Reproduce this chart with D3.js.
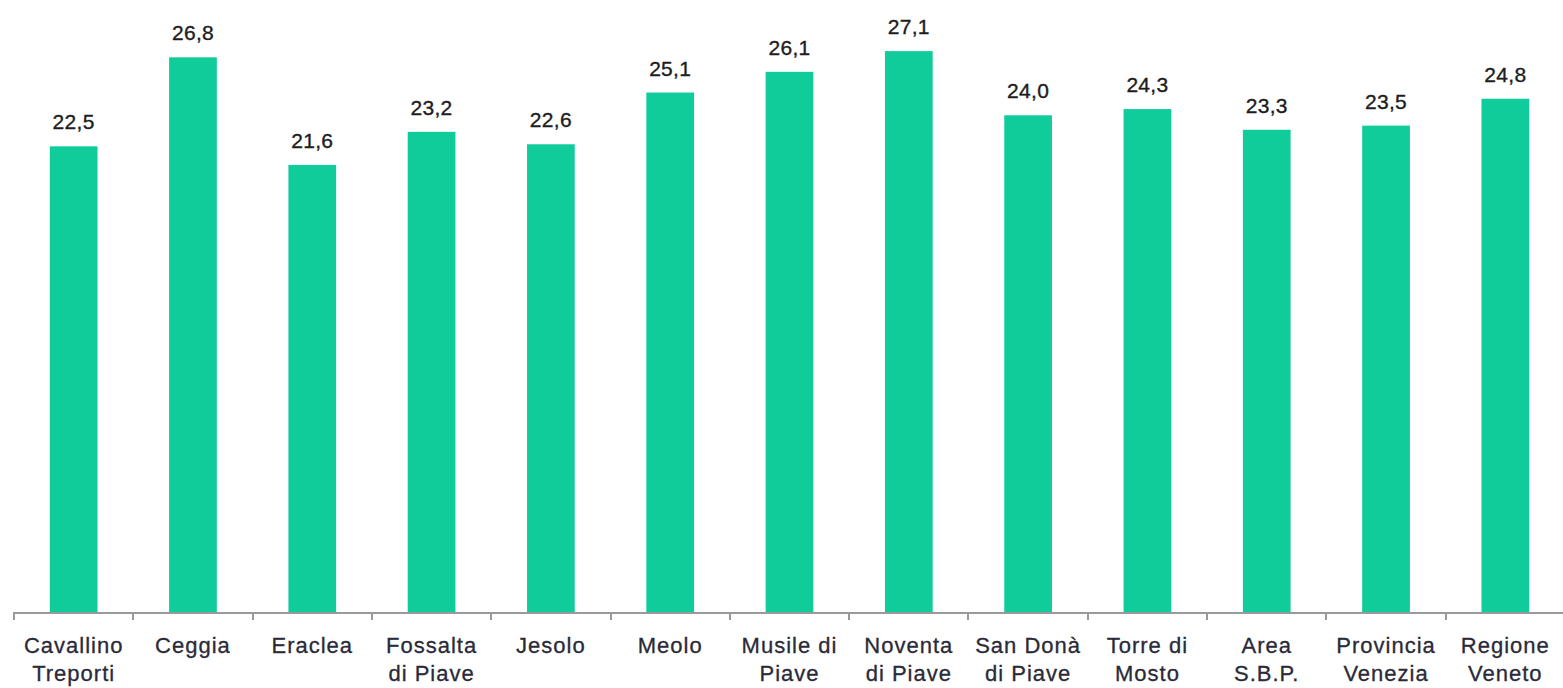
<!DOCTYPE html>
<html>
<head>
<meta charset="utf-8">
<title>Bar chart</title>
<script src="https://d3js.org/d3.v7.min.js"></script>
<style>
	body { margin: 0; background: #fff; }
	.axis line { stroke: #9a9a9a; stroke-width: 2px; shape-rendering: crispEdges; }
	.val { font: 21px "Liberation Sans", Arial, sans-serif; fill: #1c1c22; stroke: #1c1c22; stroke-width: 0.35px; text-anchor: middle; letter-spacing: 0.3px; }
	.cat { font: 22px "Liberation Sans", Arial, sans-serif; fill: #2a2a38; stroke: #2a2a38; stroke-width: 0.3px; text-anchor: middle; letter-spacing: 1px; }
</style>
</head>
<body>
<svg id="chart"></svg>
<script>
var categories = ['Cavallino|Treporti', 'Ceggia', 'Eraclea', 'Fossalta|di Piave', 'Jesolo', 'Meolo',
	'Musile di|Piave', 'Noventa|di Piave', 'San Donà|di Piave', 'Torre di|Mosto', 'Area|S.B.P.',
	'Provincia|Venezia', 'Regione|Veneto'];
var values = [22.5, 26.8, 21.6, 23.2, 22.6, 25.1, 26.1, 27.1, 24.0, 24.3, 23.3, 23.5, 24.8];

var _width = 1563, _height = 688,
	_base = 612,
	_x = d3.scaleBand().domain(categories).range([14, 1565]).paddingInner(0.6).paddingOuter(0.3),
	_y = d3.scaleLinear().domain([0, 29.57]).range([_base, 0]);

var svg = d3.select('#chart').attr('width', _width).attr('height', _height);

// bars
svg.append('g').selectAll('rect')
	.data(values)
	.enter().append('rect')
		.attr('x', function(d, i){ return _x(categories[i]); })
		.attr('y', function(d){ return _y(d); })
		.attr('width', _x.bandwidth())
		.attr('height', function(d){ return _base - _y(d); })
		.attr('fill', '#10cc9b');

// value labels
svg.append('g').selectAll('text')
	.data(values)
	.enter().append('text')
		.attr('class', 'val')
		.attr('x', function(d, i){ return _x(categories[i]) + _x.bandwidth() / 2; })
		.attr('y', function(d){ return _y(d) - 17; })
		.text(function(d){ return d.toFixed(1).replace('.', ','); });

// x axis: line + ticks at band boundaries
var ax = svg.append('g').attr('class', 'axis');
var step = _x.step();
ax.append('line')
	.attr('x1', 13).attr('x2', _width)
	.attr('y1', _base + 1).attr('y2', _base + 1);
ax.selectAll('line.tick')
	.data(d3.range(categories.length))
	.enter().append('line')
		.attr('class', 'tick')
		.attr('x1', function(i){ return _x.range()[0] + i * step; })
		.attr('x2', function(i){ return _x.range()[0] + i * step; })
		.attr('y1', _base + 1).attr('y2', _base + 8);

// category labels
var lab = svg.append('g').selectAll('text')
	.data(categories)
	.enter().append('text')
		.attr('class', 'cat')
		.attr('x', function(d){ return _x(d) + _x.bandwidth() / 2; })
		.attr('y', 653);
lab.selectAll('tspan')
	.data(function(d){ return d.split('|'); })
	.enter().append('tspan')
		.attr('x', function(){ return d3.select(this.parentNode).attr('x'); })
		.attr('dy', function(d, i){ return i ? 28 : 0; })
		.text(function(d){ return d; });
</script>
</body>
</html>
